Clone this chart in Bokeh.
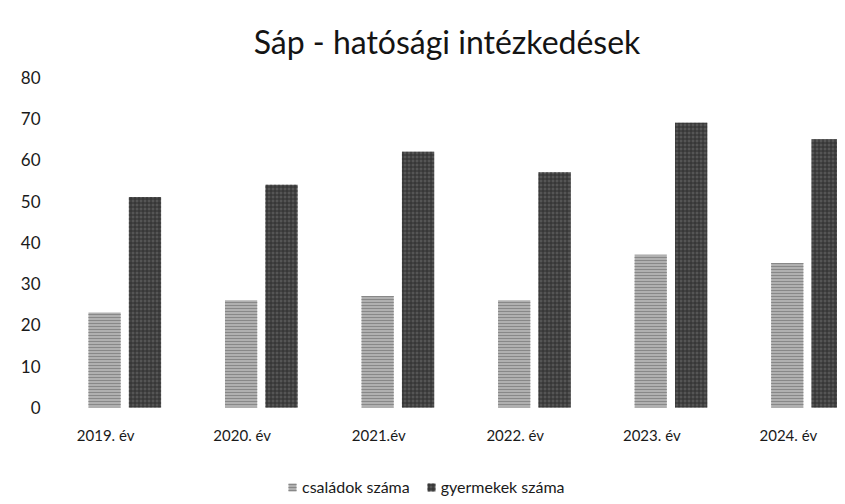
from bokeh.plotting import figure
from bokeh.models import Range1d, Legend, LegendItem, FixedTicker
from bokeh.embed import file_html
from bokeh.resources import INLINE
import numpy as np

years = ["2019. év", "2020. év", "2021.év", "2022. év", "2023. év", "2024. év"]
csaladok = [23, 26, 27, 26, 37, 35]
gyermekek = [51, 54, 62, 57, 69, 65]
y_ticks = [0, 10, 20, 30, 40, 50, 60, 70, 80]

idx = np.arange(len(years))
off = 0.148
bw = 0.236
lab_off = 0.14

# frame reaches the bottom of the figure; value 0 sits 89 px above it
p = figure(width=837, height=496, output_backend="svg", toolbar_location=None,
           x_range=Range1d(-0.5, 5.22), y_range=Range1d(-21.6, 80),
           min_border_left=56, min_border_right=0, min_border_top=77, min_border_bottom=0)
p.outline_line_color = None
p.background_fill_color = "white"
p.border_fill_color = "white"
p.xgrid.visible = False
p.ygrid.visible = False

p.title.text = "Sáp - hatósági intézkedések"
p.title.text_font = "Lato"
p.title.text_font_size = "32px"
p.title.text_font_style = "normal"
p.title.text_color = "#141414"
p.title.align = "center"
p.title.standoff = 34

r1 = p.vbar(x=idx - off, top=csaladok, width=bw, fill_color="#b0b0b0", line_color=None,
            hatch_pattern="horizontal_line", hatch_color="#888888", hatch_scale=3, hatch_weight=1)
r2 = p.vbar(x=idx + off, top=gyermekek, width=bw, fill_color="#555555", line_color=None,
            hatch_pattern="cross", hatch_color="#2e2e2e", hatch_scale=4, hatch_weight=1)

p.xaxis.fixed_location = 0
p.xaxis.ticker = FixedTicker(ticks=list(idx - lab_off))
p.xaxis.major_label_overrides = {float(t): y for t, y in zip(idx - lab_off, years)}
p.xaxis.major_label_text_font = "Lato"
p.xaxis.major_label_text_font_size = "15px"
p.xaxis.major_label_text_color = "#1a1a1a"
p.xaxis.major_label_standoff = 19
p.xaxis.axis_line_color = None
p.xaxis.major_tick_out = 0
p.xaxis.major_tick_in = 0
p.xaxis.major_tick_line_color = None
p.xaxis.minor_tick_line_color = None

p.yaxis.ticker = FixedTicker(ticks=y_ticks)
p.yaxis.major_label_text_font = "Lato"
p.yaxis.major_label_text_font_size = "17px"
p.yaxis.major_label_text_color = "#1a1a1a"
p.yaxis.major_label_standoff = 16
p.yaxis.axis_line_color = None
p.yaxis.major_tick_out = 0
p.yaxis.major_tick_in = 0
p.yaxis.major_tick_line_color = None
p.yaxis.minor_tick_line_color = None

legend = Legend(items=[LegendItem(label="családok száma", renderers=[r1]),
                       LegendItem(label="gyermekek száma", renderers=[r2])],
                location=(231, 0), orientation="horizontal")
legend.label_text_font = "Lato"
legend.label_text_font_size = "16px"
legend.label_text_color = "#1a1a1a"
legend.glyph_width = 10
legend.glyph_height = 10
legend.label_standoff = 5
legend.spacing = 16
legend.padding = 0
legend.margin = 0
legend.border_line_color = None
legend.background_fill_alpha = 0
p.add_layout(legend)

open("out.html", "w").write(file_html(p, INLINE))
